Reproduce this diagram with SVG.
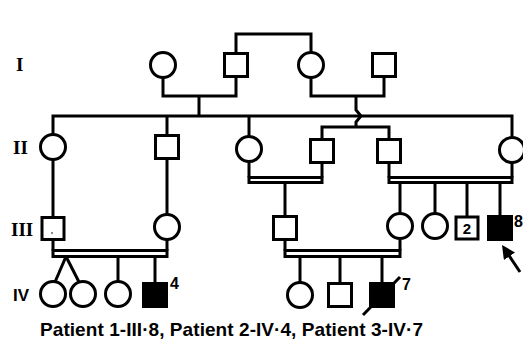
<svg xmlns="http://www.w3.org/2000/svg" width="523" height="340" viewBox="0 0 523 340">
<style>
.ln{fill:none;stroke:#000;stroke-width:3;stroke-linejoin:miter}
.sym{fill:#fff;stroke:#000;stroke-width:3}
.aff{fill:#000;stroke:#000;stroke-width:3}
.gen{font-family:"Liberation Serif",serif;font-weight:bold;font-size:19px;fill:#000}
.sans{font-family:"Liberation Sans",Arial,sans-serif;font-weight:bold;fill:#000}
</style>
<defs>
<marker id="ah" viewBox="0 0 10 10" refX="2" refY="5" markerWidth="4.5" markerHeight="4.5" orient="auto">
<path d="M0 0 L10 5 L0 10 Z" fill="#000"/>
</marker>
</defs>
<rect width="523" height="340" fill="#fff"/>
<g id="generation-labels">
<text class="gen" x="16" y="71">I</text>
<text class="gen" x="13" y="154">II</text>
<text class="gen" x="11" y="236">III</text>
<text class="sans" x="13" y="301" font-size="17">IV</text>
</g>
<g id="connectors">
<path class="ln" d="M236 53.5 V34 H311 V52.5"/>
<path class="ln" d="M163 77.5 V96 H236 V76.5"/>
<path class="ln" d="M199 96 V116"/>
<path class="ln" d="M311 77.5 V96 H384 V76.5"/>
<path class="ln" d="M356 96 V110 L361 116 L356 122 V127"/>
<path class="ln" d="M53 134.5 V116 H512 V137.5"/>
<path class="ln" d="M167 116 V135.5"/>
<path class="ln" d="M249 116 V136.5"/>
<path class="ln" d="M322 139.5 V127 H389 V139.5"/>
<path class="ln" d="M53 159.5 V217.5"/>
<path class="ln" d="M167 158.5 V214.5"/>
<path class="ln" d="M249 161.5 V177.5"/>
<path class="ln" d="M322 162.5 V177.5"/>
<rect class="ln" x="249" y="177.5" width="73" height="5"/>
<path class="ln" d="M285 182.5 V216.5"/>
<path class="ln" d="M389 162.5 V177.5"/>
<path class="ln" d="M512 162.5 V177.5"/>
<rect class="ln" x="389" y="177.5" width="123" height="5"/>
<path class="ln" d="M400 182.5 V213.5"/>
<path class="ln" d="M435 182.5 V213.5"/>
<path class="ln" d="M467 182.5 V217"/>
<path class="ln" d="M500 182.5 V216.5"/>
<path class="ln" d="M53 240.5 V250.5"/>
<path class="ln" d="M167 239.5 V250.5"/>
<rect class="ln" x="53" y="250.5" width="114" height="6"/>
<path class="ln" d="M66 256.5 L55 282"/>
<path class="ln" d="M66 256.5 L79 282"/>
<path class="ln" d="M118 256.5 V281.5"/>
<path class="ln" d="M155 256.5 V283"/>
<path class="ln" d="M285 239.5 V250.5"/>
<path class="ln" d="M400 238.5 V250.5"/>
<rect class="ln" x="285" y="250.5" width="115" height="6"/>
<path class="ln" d="M300 256.5 V282.5"/>
<path class="ln" d="M340 256.5 V283.5"/>
<path class="ln" d="M382 256.5 V283.5"/>
<path class="ln" d="M520 272 L508 254" stroke-width="3.5" marker-end="url(#ah)"/>
</g>
<g id="I-1"><circle class="sym" cx="163" cy="65" r="12.5"/></g>
<g id="I-2"><rect class="sym" x="224.5" y="53.5" width="23" height="23"/></g>
<g id="I-3"><circle class="sym" cx="311" cy="65" r="12.5"/></g>
<g id="I-4"><rect class="sym" x="372.5" y="53.5" width="23" height="23"/></g>
<g id="II-1"><circle class="sym" cx="53" cy="147" r="12.5"/></g>
<g id="II-2"><rect class="sym" x="155.5" y="135.5" width="23" height="23"/></g>
<g id="II-3"><circle class="sym" cx="249" cy="149" r="12.5"/></g>
<g id="II-4"><rect class="sym" x="310.5" y="139.5" width="23" height="23"/></g>
<g id="II-5"><rect class="sym" x="377.5" y="139.5" width="23" height="23"/></g>
<g id="II-8"><circle class="sym" cx="512" cy="150" r="12.5"/></g>
<g id="III-1"><rect class="sym" x="42" y="217.5" width="22" height="22"/><circle cx="52" cy="233" r="0.8" fill="#000"/></g>
<g id="III-2"><circle class="sym" cx="167" cy="227" r="12.5"/></g>
<g id="III-3"><rect class="sym" x="273.5" y="216.5" width="23" height="23"/></g>
<g id="III-4"><circle class="sym" cx="400" cy="226" r="12.5"/></g>
<g id="III-5"><circle class="sym" cx="435" cy="226" r="12.5"/></g>
<g id="III-6"><rect class="sym" x="456" y="217" width="22" height="22"/><text class="sans" x="467" y="234" font-size="15" text-anchor="middle">2</text></g>
<g id="III-8"><rect class="aff" x="488.5" y="216.5" width="23" height="23"/><text class="sans" x="514" y="227" font-size="16">8</text></g>
<g id="IV-1"><circle class="sym" cx="53" cy="294" r="12.5"/></g>
<g id="IV-2"><circle class="sym" cx="83" cy="294" r="12.5"/></g>
<g id="IV-3"><circle class="sym" cx="118" cy="294" r="12.5"/></g>
<g id="IV-4"><rect class="aff" x="143.5" y="283.5" width="23" height="23"/><text class="sans" x="170" y="289" font-size="16">4</text></g>
<g id="IV-5"><circle class="sym" cx="300" cy="295" r="12.5"/></g>
<g id="IV-6"><rect class="sym" x="328.5" y="283.5" width="23" height="23"/></g>
<g id="IV-7"><rect class="aff" x="370.5" y="283.5" width="23" height="23"/><path class="ln" d="M363 315 L400 277"/><text class="sans" x="402" y="290" font-size="16">7</text></g>
<g id="caption">
<text class="sans" x="40" y="336" font-size="19" textLength="383" lengthAdjust="spacing">Patient 1-III·8, Patient 2-IV·4, Patient 3-IV·7</text>
</g>
</svg>
